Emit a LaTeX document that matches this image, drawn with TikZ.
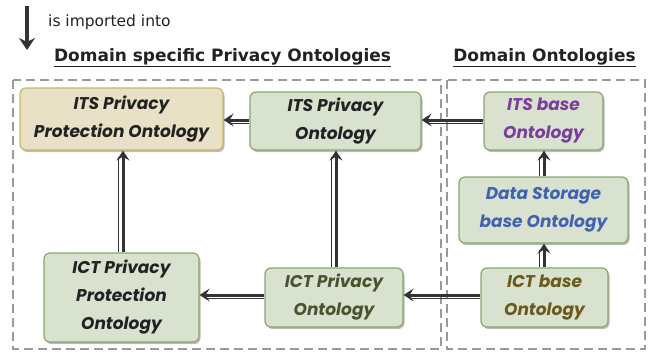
\documentclass[tikz,border=0pt]{standalone}
\usepackage{fontspec}
\setmainfont{Poppins}
\newfontfamily\headfont{DejaVu Sans}
\usetikzlibrary{arrows.meta,shadows}
\definecolor{gfill}{HTML}{D9E1CF}
\definecolor{gdraw}{HTML}{8DA56E}
\definecolor{bfill}{HTML}{E8E1C5}
\definecolor{bdraw}{HTML}{C9B56B}
\definecolor{boxgray}{HTML}{9A9A9A}
\definecolor{arrdark}{HTML}{333333}
\definecolor{cpurple}{HTML}{7A3F9C}
\definecolor{cblue}{HTML}{4062B0}
\definecolor{colive}{HTML}{6B5A1E}
\definecolor{cdolive}{HTML}{4B5230}
\definecolor{ctext}{HTML}{222222}
\begin{document}
\begin{tikzpicture}[x=1pt,y=-1pt,
  onto/.style={rectangle,rounded corners=6pt,draw=gdraw,fill=gfill,line width=1.2pt,
    align=center,font=\fontsize{17}{28}\selectfont\bfseries\itshape,text=ctext,
    inner sep=0pt,drop shadow={shadow xshift=1.5pt,shadow yshift=-2pt,opacity=0.45,fill=black!60}},
  dbox/.style={draw=boxgray,line width=2.2pt,dash pattern=on 9pt off 5pt},
  thk/.style={draw=arrdark,line width=3pt,-{Stealth[length=10pt,width=13pt,inset=4pt]}},
  thn/.style={draw=arrdark,line width=0.9pt},
  head/.style={font=\headfont\fontsize{17}{20}\selectfont\bfseries,text=ctext,inner sep=0pt}
]
\useasboundingbox (0,0) rectangle (654,354);
% legend
\draw[line width=4pt,draw=arrdark,-{Stealth[length=12pt,width=16pt,inset=4pt]}] (27,6) coordinate (la) -- (27,50) coordinate (lb);
\node[anchor=west,font=\headfont\fontsize{15.5}{18}\selectfont,text=ctext,inner sep=0pt] (leg) at (48,22) {is imported into};
% headings
\node[head] (h1) at (222.5,58) {\underline{Domain specific Privacy Ontologies}};
\node[head] (h2) at (544.5,58) {\underline{Domain Ontologies}};
% dashed boxes
\draw[dbox] (13,80) rectangle (441,349);
\draw[dbox] (447,80) rectangle (645,349);
% nodes
\node[onto,fill=bfill,draw=bdraw,minimum width=203pt,minimum height=62pt] (itsppo) at (121.5,119) {ITS Privacy\\Protection Ontology};
\node[onto,minimum width=171pt,minimum height=58pt] (itsp) at (335.5,121) {ITS Privacy\\Ontology};
\node[onto,minimum width=119pt,minimum height=58pt,text=cpurple] (itsbase) at (543.5,121) {ITS base\\Ontology};
\node[onto,minimum width=169pt,minimum height=66pt,text=cblue] (ds) at (543.5,210) {Data Storage\\base Ontology};
\node[onto,minimum width=127pt,minimum height=59pt,text=colive] (ictbase) at (544.5,297.5) {ICT base\\Ontology};
\node[onto,minimum width=138pt,minimum height=59pt,text=cdolive] (ictp) at (334,297.5) {ICT Privacy\\Ontology};
\node[onto,minimum width=155pt,minimum height=89pt] (ictppo) at (121.5,297.5) {ICT Privacy\\Protection\\Ontology};
% horizontal arrows (thick on top, thin below)
\draw[thn] ([yshift=-2.5pt]itsp.west |- 0,121) -- ([xshift=6pt,yshift=-2.5pt]itsppo.east |- 0,121);
\draw[thk] (itsp.west |- 0,120) -- (itsppo.east |- 0,120);
\draw[thn] ([yshift=-2.5pt]itsbase.west |- 0,121) -- ([xshift=6pt,yshift=-2.5pt]itsp.east |- 0,121);
\draw[thk] (itsbase.west |- 0,120) -- (itsp.east |- 0,120);
\draw[thn] ([yshift=-2.5pt]ictbase.west |- 0,296) -- ([xshift=6pt,yshift=-2.5pt]ictp.east |- 0,296);
\draw[thk] (ictbase.west |- 0,295) -- (ictp.east |- 0,295);
\draw[thn] ([yshift=-2.5pt]ictp.west |- 0,296) -- ([xshift=6pt,yshift=-2.5pt]ictppo.east |- 0,296);
\draw[thk] (ictp.west |- 0,295) -- (ictppo.east |- 0,295);
% vertical arrows (thick right, thin left)
\draw[thn] ([xshift=-2.5pt]ictppo.north -| 121,0) -- ([xshift=-2.5pt,yshift=-6pt]itsppo.south -| 121,0);
\draw[thk] (ictppo.north -| 123,0) -- (itsppo.south -| 123,0);
\draw[thn] ([xshift=-2.5pt]ictp.north -| 334,0) -- ([xshift=-2.5pt,yshift=-6pt]itsp.south -| 334,0);
\draw[thk] (ictp.north -| 336,0) -- (itsp.south -| 336,0);
\draw[thn] ([xshift=-2.5pt]ds.north -| 542,0) -- ([xshift=-2.5pt,yshift=-6pt]itsbase.south -| 542,0);
\draw[thk] (ds.north -| 544,0) -- (itsbase.south -| 544,0);
\draw[thn] ([xshift=-2.5pt]ictbase.north -| 542,0) -- ([xshift=-2.5pt,yshift=-6pt]ds.south -| 542,0);
\draw[thk] (ictbase.north -| 544,0) -- (ds.south -| 544,0);
\end{tikzpicture}
\end{document}
